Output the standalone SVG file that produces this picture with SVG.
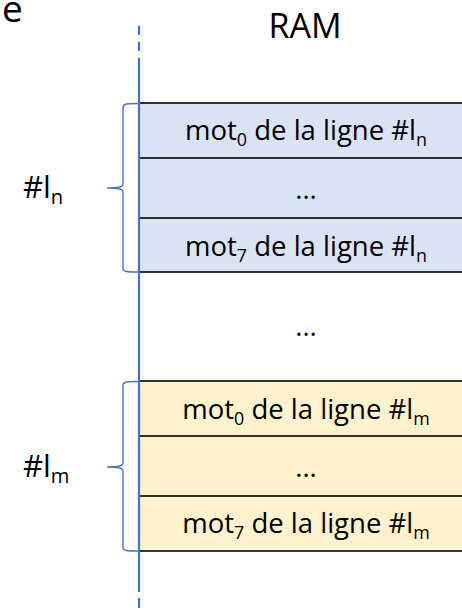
<svg xmlns="http://www.w3.org/2000/svg" width="462" height="613" viewBox="0 0 462 613">
  <style>
    text { font-family: "Open Sans", "Noto Sans", "Liberation Sans", sans-serif; fill: #000; }
    .cell-text { font-size: 27.5px; text-anchor: middle; }
    .label { font-size: 31px; }
    .title { font-size: 34px; text-anchor: middle; }
    .blue { fill: #DAE3F3; }
    .orange { fill: #FFF2CC; }
    .cell { stroke: #000; stroke-width: 1.6; }
    .brace { fill: none; stroke: #4472C4; stroke-width: 1.4; }
    .axis { stroke: #4472C4; stroke-width: 2.2; fill: none; }
    .sub { font-size: 0.65em; }
  </style>

  <text x="2" y="22" style="font-size:37px">e</text>
  <text class="title" x="305" y="38">RAM</text>

  <!-- cache line #ln in memory -->
  <g id="line-n">
    <rect class="blue" x="139" y="103" width="330" height="169"/>
    <rect class="blue cell" x="139" y="103" width="330" height="55"/>
    <rect class="blue cell" x="139" y="218" width="330" height="54"/>
    <text class="cell-text" x="306" y="140">mot<tspan class="sub" dy="6">0</tspan><tspan dy="-6"> de la ligne #l</tspan><tspan class="sub" dy="6">n</tspan></text>
    <text class="cell-text" x="306" y="199">...</text>
    <text class="cell-text" x="306" y="256">mot<tspan class="sub" dy="6">7</tspan><tspan dy="-6"> de la ligne #l</tspan><tspan class="sub" dy="6">n</tspan></text>
  </g>

  <text class="cell-text" x="306" y="336">...</text>

  <!-- cache line #lm in memory -->
  <g id="line-m">
    <rect class="orange" x="139" y="381" width="330" height="170"/>
    <rect class="orange cell" x="139" y="381" width="330" height="55"/>
    <rect class="orange cell" x="139" y="496" width="330" height="55"/>
    <text class="cell-text" x="306" y="419">mot<tspan class="sub" dy="6">0</tspan><tspan dy="-6"> de la ligne #l</tspan><tspan class="sub" dy="6">m</tspan></text>
    <text class="cell-text" x="306" y="477">...</text>
    <text class="cell-text" x="306" y="533">mot<tspan class="sub" dy="6">7</tspan><tspan dy="-6"> de la ligne #l</tspan><tspan class="sub" dy="6">m</tspan></text>
  </g>

  <!-- address axis and braces -->
  <g id="connectors">
    <line class="axis" x1="139" y1="26" x2="139" y2="58" stroke-dasharray="9 7"/>
    <line class="axis" x1="139" y1="58" x2="139" y2="592"/>
    <line class="axis" x1="139" y1="598" x2="139" y2="613" stroke-dasharray="10 6"/>
    <path class="brace" d="M139,103.5 C127,103.5 123,103.5 123,107.5 L123,184 C123,187 119,188 107,188 C119,188 123,189 123,192 L123,268 C123,272 127,272 139,272"/>
    <path class="brace" d="M139,381.5 C127,381.5 123,381.5 123,385.5 L123,463 C123,466 119,467 107,467 C119,467 123,468 123,471 L123,547 C123,551 127,551 139,551"/>
  </g>

  <g id="label-n">
    <text class="label" x="23" y="198">#l<tspan class="sub" dy="6">n</tspan></text>
  </g>
  <g id="label-m">
    <text class="label" x="23" y="477">#l<tspan class="sub" dy="6">m</tspan></text>
  </g>
</svg>
